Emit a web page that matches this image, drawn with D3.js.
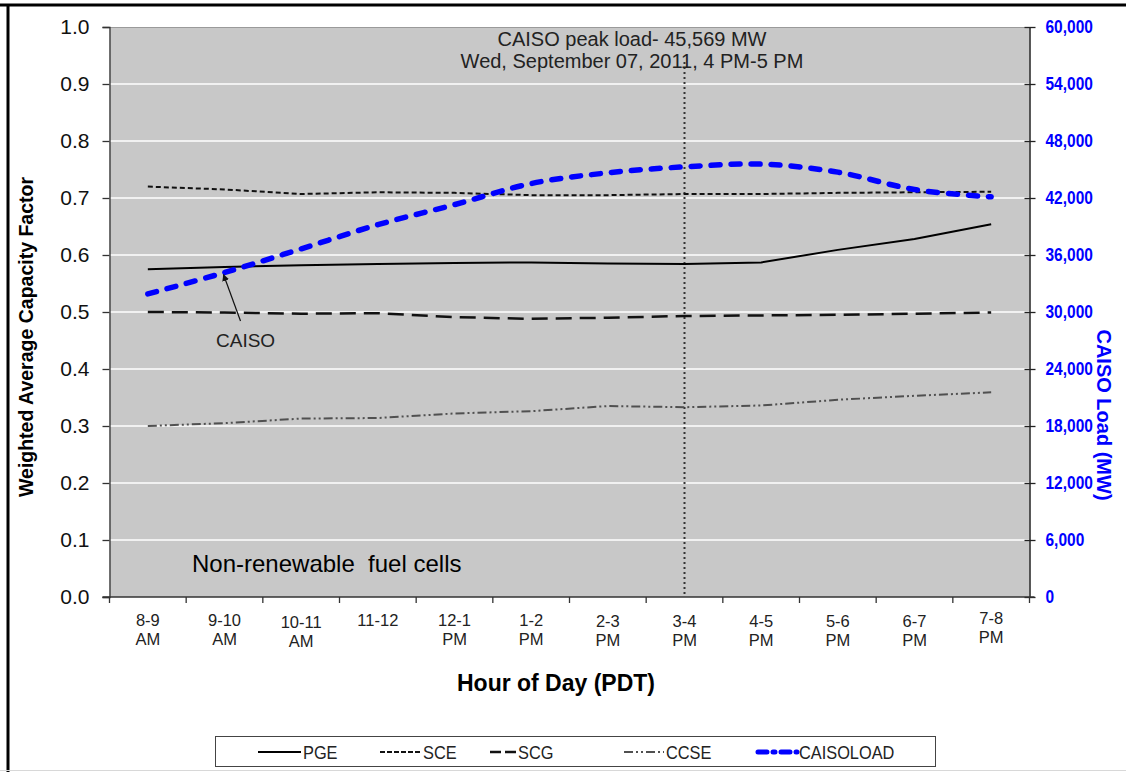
<!DOCTYPE html>
<html>
<head>
<meta charset="utf-8">
<script src="https://cdn.jsdelivr.net/npm/d3@7"></script>
<style>
  html, body { margin: 0; padding: 0; background: #ffffff; }
  svg { display: block; font-family: Arial, "Liberation Sans", sans-serif; }
</style>
</head>
<body>
<svg id="chart" width="1126" height="772"></svg>
<script>
// ---------------- data ----------------
const categories = ["8-9 AM", "9-10 AM", "10-11 AM", "11-12", "12-1 PM", "1-2 PM",
                    "2-3 PM", "3-4 PM", "4-5 PM", "5-6 PM", "6-7 PM", "7-8 PM"];
const pge  = [0.575, 0.579, 0.582, 0.584, 0.586, 0.587, 0.585, 0.584, 0.587, 0.609, 0.628, 0.654];
const sce  = [0.720, 0.715, 0.707, 0.710, 0.709, 0.705, 0.705, 0.707, 0.707, 0.709, 0.710, 0.711];
const scg  = [0.500, 0.499, 0.497, 0.498, 0.491, 0.488, 0.490, 0.493, 0.494, 0.495, 0.497, 0.499];
const ccse = [0.300, 0.305, 0.313, 0.314, 0.322, 0.326, 0.335, 0.333, 0.336, 0.346, 0.353, 0.359];
const caisoLoad = [31900, 34150, 36650, 39190, 41300, 43520, 44650, 45280, 45569, 44720, 42890, 42120];
const leftTicks  = [0, 0.1, 0.2, 0.3, 0.4, 0.5, 0.6, 0.7, 0.8, 0.9, 1.0];
const rightTicks = [0, 6000, 12000, 18000, 24000, 30000, 36000, 42000, 48000, 54000, 60000];
const peakCategory = "3-4 PM";
const annotationLines = ["CAISO peak load- 45,569 MW", "Wed, September 07, 2011, 4 PM-5 PM"];

// ---------------- layout ----------------
const L = 109.5, R = 1029.5, T = 27, B = 597;
const svg = d3.select("#chart");

const x = d3.scaleBand().domain(categories).range([L, R]).padding(0);
const xc = c => x(c) + x.bandwidth() / 2;
const yL = d3.scaleLinear().domain([0, 1]).range([B, T]);
const yR = d3.scaleLinear().domain([0, 60000]).range([B, T]);

// outer frame
svg.append("line").attr("x1", 0).attr("x2", 1126).attr("y1", 5).attr("y2", 5)
  .attr("stroke", "#000").attr("stroke-width", 3);
svg.append("line").attr("x1", 8).attr("x2", 8).attr("y1", 4).attr("y2", 772)
  .attr("stroke", "#000").attr("stroke-width", 3);
svg.append("line").attr("x1", 0).attr("x2", 1126).attr("y1", 770.5).attr("y2", 770.5)
  .attr("stroke", "#d8d8d8").attr("stroke-width", 1);

// plot background
svg.append("rect").attr("x", L).attr("y", T).attr("width", R - L).attr("height", B - T)
  .attr("fill", "#c8c8c8");
svg.append("line").attr("x1", L).attr("x2", R).attr("y1", T + 0.5).attr("y2", T + 0.5)
  .attr("stroke", "#9a9a9a").attr("stroke-width", 1);

// gridlines
svg.append("g").selectAll("line").data(leftTicks.filter(t => t > 0 && t < 1)).join("line")
  .attr("x1", L).attr("x2", R).attr("y1", d => yL(d)).attr("y2", d => yL(d))
  .attr("stroke", "#ffffff").attr("stroke-width", 1.6);

// left axis
const leftAxis = d3.axisLeft(yL).tickValues(leftTicks).tickFormat(d3.format(".1f"))
  .tickSize(7).tickPadding(13);
const gl = svg.append("g").attr("transform", `translate(${L},0)`).call(leftAxis);
gl.select(".domain").attr("stroke", "#333").attr("stroke-width", 1.3);
gl.selectAll(".tick line").attr("stroke", "#333").attr("stroke-width", 1.3);
gl.selectAll(".tick text").attr("font-size", 21).attr("fill", "#111")
  .attr("font-family", "Arial, 'Liberation Sans', sans-serif");

// right axis
const rightAxis = d3.axisRight(yR).tickValues(rightTicks).tickFormat(d3.format(","))
  .tickSizeInner(6).tickSizeOuter(0).tickPadding(10);
const gr = svg.append("g").attr("transform", `translate(${R},0)`).call(rightAxis);
gr.select(".domain").attr("stroke", "#222").attr("stroke-width", 1.5);
gr.selectAll(".tick line").attr("stroke", "#222").attr("stroke-width", 1.3).attr("x1", -5);
gr.selectAll(".tick text").attr("font-size", 18).attr("font-weight", "bold").attr("fill", "#0000ff")
  .attr("font-family", "'Liberation Sans', Arial, sans-serif")
  .each(function () {
    const w = this.getComputedTextLength();
    d3.select(this).attr("textLength", w * 0.86).attr("lengthAdjust", "spacingAndGlyphs");
  });

// bottom axis
svg.append("line").attr("x1", L - 7).attr("x2", R + 5).attr("y1", B).attr("y2", B)
  .attr("stroke", "#333").attr("stroke-width", 1.3);
const bounds = categories.map(c => x(c)).concat([R]);
svg.append("g").selectAll("line").data(bounds).join("line")
  .attr("x1", d => d).attr("x2", d => d).attr("y1", B).attr("y2", B + 6)
  .attr("stroke", "#333").attr("stroke-width", 1.3);

// category labels
const labelDy = [0, 0, 2, 0, 0, 0, 1, 1, 1, 1, 1, -2];
const xl = svg.append("g");
categories.forEach((c, i) => {
  const parts = c.split(" ");
  const t = xl.append("text").attr("x", xc(c)).attr("text-anchor", "middle")
    .attr("font-size", 16.5).attr("fill", "#222");
  parts.forEach((p, j) => {
    t.append("tspan").attr("x", xc(c)).attr("y", 626 + labelDy[i] + j * 19).text(p);
  });
});

// axis titles
svg.append("text").attr("x", 556).attr("y", 691).attr("text-anchor", "middle")
  .attr("font-size", 23).attr("font-weight", "bold").attr("fill", "#000")
  .text("Hour of Day (PDT)");
svg.append("text").attr("transform", "translate(33,337) rotate(-90)").attr("text-anchor", "middle")
  .attr("font-size", 19.5).attr("font-weight", "bold").attr("fill", "#000")
  .text("Weighted Average Capacity Factor");
svg.append("text").attr("transform", "translate(1097,415) rotate(90)").attr("text-anchor", "middle")
  .attr("font-size", 20).attr("font-weight", "bold").attr("fill", "#0000ff")
  .text("CAISO Load (MW)");

// peak vertical dotted line
svg.append("line").attr("x1", xc(peakCategory)).attr("x2", xc(peakCategory))
  .attr("y1", 62).attr("y2", B).attr("stroke", "#333").attr("stroke-width", 2)
  .attr("stroke-dasharray", "2,3");

// annotation text
annotationLines.forEach((s, i) => {
  svg.append("text").attr("x", 632).attr("y", 46 + i * 22).attr("text-anchor", "middle")
    .attr("font-size", 20).attr("fill", "#222").text(s);
});

// series
const seriesList = [
  { name: "PGE",  values: pge,  axis: yL, color: "#000", width: 2,   dash: null,             curve: d3.curveLinear },
  { name: "SCE",  values: sce,  axis: yL, color: "#111", width: 2,   dash: "5,3",            curve: d3.curveLinear },
  { name: "SCG",  values: scg,  axis: yL, color: "#111", width: 2.5, dash: "16,8",           curve: d3.curveLinear },
  { name: "CCSE", values: ccse, axis: yL, color: "#505050", width: 2, dash: "9,3,2,3,2,3",   curve: d3.curveLinear },
  { name: "CAISOLOAD", values: caisoLoad, axis: yR, color: "#0000ff", width: 5.5, dash: "9,11", curve: d3.curveCatmullRom.alpha(0.5), cap: "round" }
];

seriesList.forEach(s => {
  const line = d3.line().x((d, i) => xc(categories[i])).y(d => s.axis(d)).curve(s.curve);
  svg.append("path").datum(s.values).attr("d", line)
    .attr("fill", "none").attr("stroke", s.color).attr("stroke-width", s.width)
    .attr("stroke-dasharray", s.dash).attr("stroke-linecap", s.cap || "butt");
});

// CAISO arrow annotation
const defs = svg.append("defs");
defs.append("marker").attr("id", "arrow").attr("viewBox", "0 0 10 10")
  .attr("refX", 9).attr("refY", 5).attr("markerWidth", 7).attr("markerHeight", 9)
  .attr("orient", "auto").attr("markerUnits", "userSpaceOnUse")
  .append("path").attr("d", "M0,0 L10,5 L0,10 z").attr("fill", "#111");
const tipX = xc(categories[1]) - 1, tipY = yR(caisoLoad[1]) + 2;
svg.append("line").attr("x1", tipX + 17).attr("y1", 321).attr("x2", tipX).attr("y2", tipY)
  .attr("stroke", "#111").attr("stroke-width", 1.2).attr("marker-end", "url(#arrow)");
svg.append("text").attr("x", 216).attr("y", 347).attr("font-size", 19).attr("fill", "#222").text("CAISO");

// chart label
svg.append("text").attr("x", 192).attr("y", 572).attr("font-size", 24).attr("fill", "#000")
  .attr("xml:space", "preserve").style("white-space", "pre").text("Non-renewable  fuel cells");

// legend
const lg = svg.append("g");
lg.append("rect").attr("x", 215.5).attr("y", 736.5).attr("width", 720).attr("height", 30)
  .attr("fill", "#fff").attr("stroke", "#444").attr("stroke-width", 1);
const legendX = [[258, 301], [380, 421], [490, 516], [624, 664], [758, 797]];
seriesList.forEach((s, i) => {
  const [a, b] = legendX[i];
  lg.append("line").attr("x1", a).attr("x2", b).attr("y1", 752).attr("y2", 752)
    .attr("stroke", s.color).attr("stroke-width", s.width === 5.5 ? 5 : s.width)
    .attr("stroke-dasharray", s.name === "CAISOLOAD" ? "9,6,2,6" : (s.name === "SCE" ? "5,2" : (s.name === "SCG" ? "11,4" : s.dash)))
    .attr("stroke-linecap", s.cap || "butt");
  lg.append("text").attr("x", b + 2).attr("y", 759).attr("font-size", 19).attr("fill", "#222")
    .text(s.name)
    .each(function () {
      const w = this.getComputedTextLength();
      d3.select(this).attr("textLength", w * 0.86).attr("lengthAdjust", "spacingAndGlyphs");
    });
});
</script>
</body>
</html>
